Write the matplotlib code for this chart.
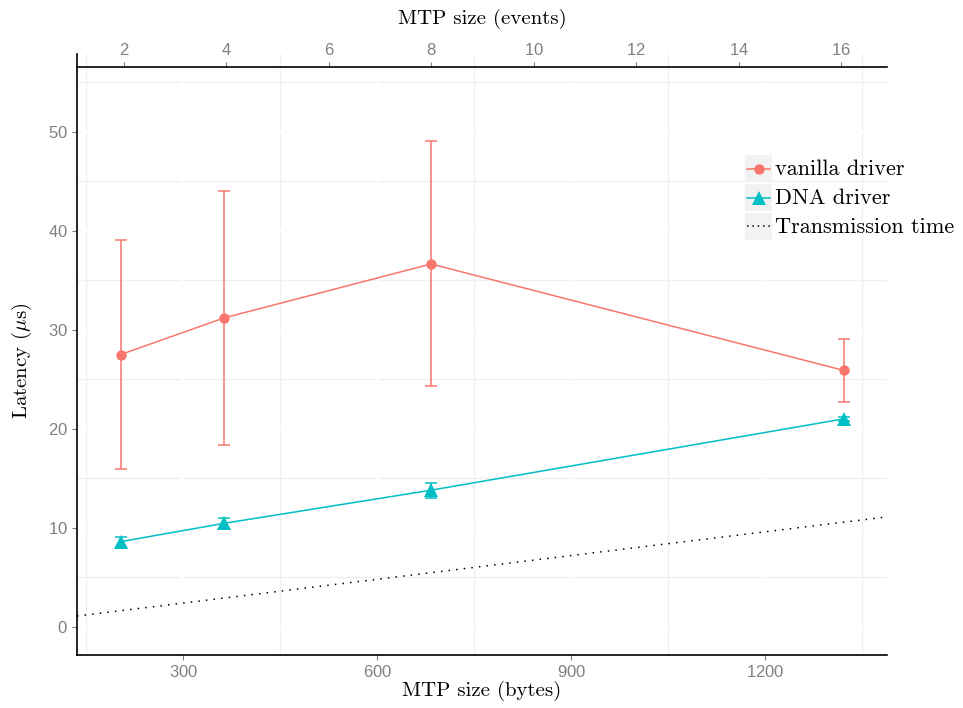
import matplotlib
matplotlib.use("Agg")
import matplotlib.pyplot as plt
from matplotlib.ticker import MultipleLocator, FixedLocator
from matplotlib.patches import Rectangle
from matplotlib.lines import Line2D
import numpy as np

plt.rcParams['mathtext.fontset'] = 'cm'
plt.rcParams['axes.formatter.use_mathtext'] = True

# MTP size in bytes for 2, 4, 8 and 16 events
mtp_bytes = [203, 363, 683, 1321]

vanilla_mean = [27.5, 31.2, 36.65, 25.9]
vanilla_low = [15.95, 18.4, 24.3, 22.75]
vanilla_high = [39.05, 44.0, 49.1, 29.1]

dna_mean = [8.6, 10.45, 13.8, 21.0]
dna_low = [8.1, 9.9, 13.05, 20.8]
dna_high = [9.1, 11.0, 14.5, 21.2]

# wire time at 1 Gbit/s: 8 ns per byte
ns_per_byte = 8.0

series_labels = ["vanilla driver", "DNA driver", "Transmission time"]
red = "#F8766D"
teal = "#00BFC4"

W, H = 963, 708
fig = plt.figure(figsize=(W / 100, H / 100), dpi=100)
ax = fig.add_axes([77 / W, 1 - 655 / H, (887 - 77) / W, (655 - 54) / H])

xlim = (135.6, 1388.0)
ylim = (-2.85, 57.86)
ax.set_xlim(*xlim)
ax.set_ylim(*ylim)

# grid: light minor lines, white major lines on top of them
ax.set_axisbelow(True)
ax.xaxis.set_major_locator(FixedLocator([300, 600, 900, 1200]))
ax.xaxis.set_minor_locator(FixedLocator([150, 450, 750, 1050, 1350]))
ax.yaxis.set_major_locator(MultipleLocator(10))
ax.yaxis.set_minor_locator(FixedLocator([5, 15, 25, 35, 45, 55]))
ax.grid(which='minor', color='#efefef', linewidth=0.9)
ax.grid(which='major', visible=False)
for v in [0, 10, 20, 30, 40, 50]:
    ax.axhline(v, color='white', linewidth=1.6, zorder=0.6)
for v in [300, 600, 900, 1200]:
    ax.axvline(v, color='white', linewidth=1.6, zorder=0.6)

# transmission time reference line across the whole panel
xs = np.array(xlim)
ax.plot(xs, xs * ns_per_byte / 1000.0, color='black', linewidth=1.1,
        linestyle=(0, (1, 4)), zorder=2)

def draw_series(means, lo, hi, color, marker, ms):
    yerr = [np.array(means) - np.array(lo), np.array(hi) - np.array(means)]
    ax.errorbar(mtp_bytes, means, yerr=yerr, fmt='none', ecolor=color,
                elinewidth=1.1, capsize=4.4, capthick=1.1, zorder=3)
    ax.plot(mtp_bytes, means, color=color, linewidth=1.1, zorder=3)
    ax.plot(mtp_bytes, means, linestyle='none', marker=marker, color=color,
            markersize=ms, markeredgewidth=0, zorder=4)

draw_series(vanilla_mean, vanilla_low, vanilla_high, red, 'o', 7.5)
draw_series(dna_mean, dna_low, dna_high, teal, '^', 9.5)

# spines
for s in ['top', 'right']:
    ax.spines[s].set_visible(False)
for s in ['left', 'bottom']:
    ax.spines[s].set_linewidth(1.2)
    ax.spines[s].set_color('black')

ax.tick_params(which='major', length=3.6, width=0.8, color='#7f7f7f',
               labelcolor='#808080', labelsize=12, pad=3)
ax.tick_params(which='minor', length=0)
for lab in ax.get_xticklabels() + ax.get_yticklabels():
    lab.set_family('Liberation Sans')

# secondary axis: MTP size in events
def bytes_to_events(b):
    return (np.asarray(b) - 49.9) / 79.2

def events_to_bytes(e):
    return np.asarray(e) * 79.2 + 49.9

top_loc = (655 - 67) / (655 - 54)
sec = ax.secondary_xaxis(top_loc, functions=(bytes_to_events, events_to_bytes))
sec.set_zorder(10)
sec.xaxis.set_major_locator(FixedLocator([2, 4, 6, 8, 10, 12, 14, 16]))
sec.spines['top'].set_linewidth(1.2)
sec.spines['top'].set_color('black')
sec.tick_params(length=3.6, width=0.8, color='#7f7f7f', labelcolor='#808080',
                labelsize=12, pad=3)
for lab in sec.get_xticklabels():
    lab.set_family('Liberation Sans')

title_font = dict(family='cmr10', size=15, color='black')
fig.text(482 / W, 1 - 691 / H, "MTP size (bytes)", ha='center', va='center', **title_font)
fig.text(482 / W, 1 - 19 / H, "MTP size (events)", ha='center', va='center', **title_font)
fig.text(22 / W, 1 - 361 / H, r"Latency ($\mu$s)", ha='center', va='center',
         rotation=90, **title_font)

# legend with shaded key boxes
def fx(px):
    return px / W

def fy(py):
    return 1 - py / H

legend_font = dict(family='cmr10', size=16, color='black')
key_styles = [
    dict(color=red, marker='o', ms=7.5, ls='-'),
    dict(color=teal, marker='^', ms=9.5, ls='-'),
    dict(color='black', marker=None, ms=0, ls=(0, (1, 2.5))),
]
for i, (label, st) in enumerate(zip(series_labels, key_styles)):
    top = 155 + i * 29
    fig.patches.append(Rectangle((fx(745), fy(top + 27)), 27 / W, 27 / H,
                                 transform=fig.transFigure, facecolor='#f2f2f2',
                                 edgecolor='none'))
    cy = top + 13.5
    fig.add_artist(Line2D([fx(747), fx(770)], [fy(cy), fy(cy)], color=st['color'],
                          linewidth=1.1, linestyle=st['ls'], transform=fig.transFigure))
    if st['marker']:
        fig.add_artist(Line2D([fx(758.5)], [fy(cy)], color=st['color'], marker=st['marker'],
                              markersize=st['ms'], markeredgewidth=0, linestyle='none',
                              transform=fig.transFigure))
    fig.text(fx(775), fy(cy + 1), label, ha='left', va='center', **legend_font)

fig.savefig("out.png", dpi=100)
